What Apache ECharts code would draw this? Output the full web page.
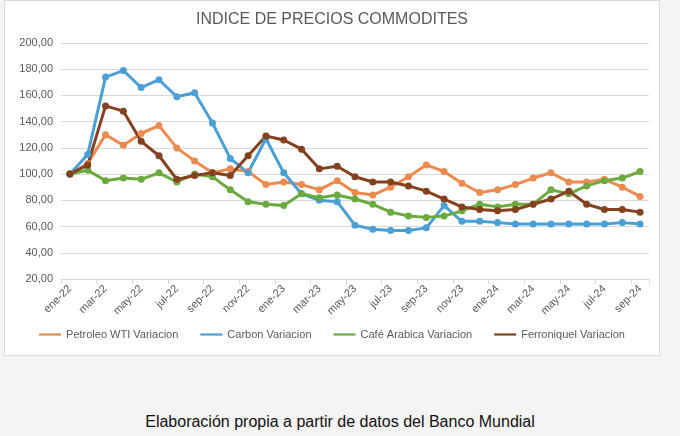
<!DOCTYPE html>
<html>
<head>
<meta charset="utf-8">
<script src="https://cdn.jsdelivr.net/npm/echarts@6/dist/echarts.min.js"></script>
<style>
  body { margin: 0; background: #f4f4f4; }
  #box { position: absolute; left: 4px; top: 0; width: 654px; height: 354px; background: #fff; border: 1px solid #d9d9d9; }
  #chart { width: 654px; height: 354px; }
  #nota { position: absolute; left: 0; width: 680px; top: 413px; text-align: center; font-family: "Liberation Sans", Arial, sans-serif; font-size: 16px; color: #111; }
</style>
</head>
<body>
<div id="box"><div id="chart"></div></div>
<div id="nota">Elaboración propia a partir de datos del Banco Mundial</div>
<script>
var meses = ['ene-22','feb-22','mar-22','abr-22','may-22','jun-22','jul-22','ago-22','sep-22','oct-22','nov-22','dic-22',
  'ene-23','feb-23','mar-23','abr-23','may-23','jun-23','jul-23','ago-23','sep-23','oct-23','nov-23','dic-23',
  'ene-24','feb-24','mar-24','abr-24','may-24','jun-24','jul-24','ago-24','sep-24'];
var petroleo = [100,108,130,122,131,137,120,110,101,104,102,92,94,92,88,95,86,84,90,98,107,102,93,86,88,92,97,101,94,94,96,90,83];
var carbon = [100,115,174,179,166,172,159,162,139,112,101,127,101,85,80,79,61,58,57,57,59,76,64,64,63,62,62,62,62,62,62,63,62];
var cafe = [100,103,95,97,96,101,94,100,98,88,79,77,76,85,82,84,81,77,71,68,67,68,72,77,75,77,77,88,85,91,95,97,102];
var ferro = [100,107,152,148,125,114,96,99,101,99,114,129,126,119,104,106,98,94,94,91,87,81,75,73,72,73,77,81,87,77,73,73,71];

function serie(nombre, datos, color) {
  return { name: nombre, type: 'line', data: datos, symbol: 'circle', symbolSize: 7,
    lineStyle: { width: 3, color: color }, itemStyle: { color: color } };
}

var chart = echarts.init(document.getElementById('chart'));
chart.setOption({
  textStyle: { fontFamily: 'Liberation Sans, Arial, sans-serif' },
  title: { text: 'INDICE DE PRECIOS COMMODITES', left: 'center', top: 6,
    textStyle: { color: '#595959', fontSize: 16, fontWeight: 'normal' } },
  legend: { bottom: 10, itemGap: 22, icon: 'path://M0,4 L20,4 L20,6 L0,6 Z', itemWidth: 22, itemHeight: 8,
    textStyle: { color: '#595959', fontSize: 11 } },
  grid: { left: 56, right: 10, top: 42, bottom: 76 },
  xAxis: { type: 'category', data: meses, boundaryGap: true,
    axisLine: { lineStyle: { color: '#d9d9d9' } },
    axisTick: { show: true, interval: 1, lineStyle: { color: '#d9d9d9' } },
    axisLabel: { interval: 1, rotate: 45, color: '#595959', fontSize: 11 } },
  yAxis: { type: 'value', min: 20, max: 200, interval: 20,
    axisLine: { show: false }, axisTick: { show: false },
    splitLine: { lineStyle: { color: '#d9d9d9' } },
    axisLabel: { color: '#595959', fontSize: 11, formatter: function (v) { return v.toFixed(2).replace('.', ','); } } },
  series: [
    serie('Petroleo WTI Variacion', petroleo, '#ed8a4e'),
    serie('Carbon Variacion', carbon, '#4a9fd5'),
    serie('Café Arabica Variacion', cafe, '#6aaa3f'),
    serie('Ferroniquel Variacion', ferro, '#84411f')
  ]
});
</script>
</body>
</html>
